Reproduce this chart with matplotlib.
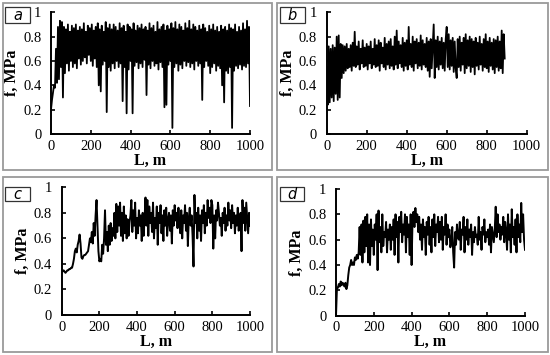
import numpy as np
import matplotlib
matplotlib.use("Agg")
import matplotlib.pyplot as plt
from matplotlib.patches import Rectangle

# ---------------- data (f in hundredths of MPa, sampled every 5 m) ----------------
step_a = 5
f_a = [20, 28, 34, 40, 38, 70, 42, 88, 45, 93,
       55, 92, 30, 88, 50, 86, 58, 90, 52, 84,
       60, 89, 55, 87, 58, 90, 54, 85, 62, 88,
       57, 86, 60, 91, 63, 84, 58, 89, 65, 87,
       60, 90, 56, 85, 62, 88, 55, 91, 40, 86,
       35, 89, 57, 84, 60, 92, 18, 87, 55, 90,
       52, 86, 58, 90, 54, 88, 60, 85, 55, 91,
       58, 87, 27, 89, 55, 84, 17, 90, 53, 88,
       60, 86, 17, 91, 56, 85, 59, 89, 54, 87,
       58, 90, 55, 86, 61, 88, 32, 85, 57, 91,
       54, 87, 60, 89, 56, 84, 58, 92, 53, 86,
       59, 88, 55, 90, 22, 85, 24, 89, 57, 86,
       60, 91, 5, 87, 55, 92, 58, 86, 52, 90,
       57, 88, 54, 85, 60, 91, 56, 87, 59, 93,
       55, 86, 58, 90, 53, 88, 60, 85, 56, 89,
       58, 86, 28, 90, 55, 87, 60, 84, 56, 89,
       50, 86, 55, 90, 58, 85, 52, 88, 56, 84,
       54, 89, 40, 86, 26, 88, 52, 85, 50, 90,
       55, 87, 5, 86, 52, 90, 56, 84, 54, 88,
       57, 85, 53, 91, 56, 86, 55, 93, 58, 88,
       23]

step_b = 5
f_b = [55, 24, 72, 26, 70, 30, 73, 27, 71, 33,
       80, 28, 81, 30, 74, 46, 73, 50, 72, 52,
       74, 54, 70, 55, 73, 52, 75, 56, 84, 55,
       72, 57, 76, 53, 70, 58, 77, 55, 71, 56,
       74, 53, 72, 58, 76, 54, 70, 57, 78, 55,
       73, 56, 77, 52, 75, 58, 71, 55, 79, 53,
       74, 57, 76, 54, 78, 56, 72, 53, 80, 57,
       85, 54, 76, 58, 73, 55, 79, 52, 75, 56,
       77, 53, 88, 57, 74, 55, 80, 52, 76, 58,
       78, 54, 75, 56, 81, 53, 77, 57, 74, 55,
       79, 52, 76, 47, 78, 54, 72, 90, 46, 77,
       55, 80, 53, 76, 57, 79, 54, 75, 52, 78,
       88, 55, 82, 53, 77, 56, 79, 51, 76, 54,
       46, 78, 55, 80, 52, 75, 57, 79, 50, 82,
       54, 77, 56, 80, 51, 78, 55, 76, 49, 79,
       56, 75, 53, 80, 57, 74, 52, 78, 55, 82,
       54, 76, 51, 79, 56, 75, 53, 78, 50, 77,
       55, 80, 52, 76, 54, 85, 50, 82, 62]

step_c = 5
f_c = [35, 34, 35, 34, 33, 34, 35, 35, 36, 36,
       37, 37, 40, 44, 50, 52, 49, 55, 58, 63,
       56, 45, 44, 46, 47, 47, 48, 49, 50, 55,
       60, 57, 65, 56, 72, 62, 78, 90, 70, 50,
       42, 44, 42, 55, 48, 60, 82, 55, 65, 50,
       70, 55, 72, 58, 68, 62, 80, 60, 87, 65,
       85, 70, 88, 62, 80, 58, 85, 64, 78, 60,
       75, 62, 72, 78, 90, 65, 82, 70, 88, 60,
       76, 64, 82, 70, 78, 58, 80, 62, 75, 92,
       70, 90, 62, 85, 72, 80, 65, 88, 60, 76,
       68, 85, 55, 80, 72, 86, 64, 78, 58, 82,
       70, 84, 62, 75, 80, 66, 78, 56, 82, 70,
       86, 74, 80, 68, 84, 72, 64, 82, 60, 78,
       72, 86, 66, 80, 54, 76, 84, 70, 78, 62,
       38, 94, 72, 80, 60, 84, 66, 78, 58, 82,
       72, 86, 64, 80, 70, 90, 76, 84, 72, 90,
       86, 52, 78, 60, 82, 74, 88, 80, 70, 76,
       62, 80, 72, 84, 66, 78, 70, 88, 74, 82,
       68, 86, 72, 80, 64, 78, 70, 84, 66, 76,
       80, 50, 90, 72, 84, 66, 88, 76, 64, 80,
       70]

step_d = 5
f_d = [0, 22, 22, 25, 23, 27, 24, 26, 25, 23,
       26, 21, 24, 32, 38, 40, 44, 40, 42, 40,
       46, 44, 48, 45, 50, 70, 48, 72, 42, 75,
       50, 78, 55, 80, 42, 72, 40, 76, 55, 68,
       48, 72, 60, 80, 36, 83, 58, 70, 50, 80,
       55, 66, 62, 74, 50, 68, 60, 72, 52, 70,
       60, 76, 48, 80, 62, 74, 42, 78, 66, 82,
       58, 72, 64, 80, 50, 78, 62, 72, 48, 80,
       40, 76, 82, 70, 85, 74, 80, 66, 78, 60,
       72, 52, 76, 62, 70, 48, 74, 64, 78, 56,
       70, 50, 76, 62, 80, 55, 72, 66, 78, 58,
       74, 60, 78, 52, 70, 64, 80, 56, 72, 62,
       68, 54, 58, 70, 50, 38, 66, 56, 72, 62,
       60, 74, 52, 68, 64, 78, 50, 70, 60, 76,
       56, 68, 62, 72, 48, 66, 58, 70, 62, 64,
       56, 78, 60, 66, 52, 70, 64, 76, 58, 66,
       62, 68, 56, 72, 50, 70, 64, 58, 68, 86,
       62, 80, 66, 72, 60, 70, 64, 78, 58, 74,
       66, 52, 80, 60, 72, 50, 84, 62, 70, 56,
       76, 50, 80, 62, 72, 58, 89, 66, 80, 60,
       52]

panel_labels = ["a", "b", "c", "d"]
x_ticks = [0, 200, 400, 600, 800, 1000]
y_ticks = [0, 0.2, 0.4, 0.6, 0.8, 1]
y_ticklabels = ["0", "0.2", "0.4", "0.6", "0.8", "1"]
xlabel = "L, m"
ylabel = "f, MPa"

W, H = 550, 355
fig = plt.figure(figsize=(5.5, 3.55), dpi=100)
fig.patch.set_facecolor("white")

def fx(px):
    return px / W

def fy(py):
    return 1 - py / H

boxes = [(3, 3, 272, 170), (277, 3, 548, 170), (3, 177, 272, 352), (277, 177, 548, 352)]
axes_px = [(51, 250, 12.3, 134), (326.7, 526.7, 12.3, 134),
           (61.7, 250, 187.3, 315), (336, 525, 189, 315.7)]
label_boxes = [(5, 7, 30, 23), (280, 7, 305, 23), (5, 187, 30, 201), (280, 187, 304, 201)]
series = [(f_a, step_a), (f_b, step_b), (f_c, step_c), (f_d, step_d)]
line_w = [1.3, 1.3, 1.4, 1.4]

serif = ["Liberation Serif", "DejaVu Serif"]

for k in range(4):
    x0, y0, x1, y1 = boxes[k]
    fig.add_artist(Rectangle((fx(x0), fy(y1)), fx(x1 - x0), (y1 - y0) / H,
                             transform=fig.transFigure, fill=False,
                             edgecolor="#9a9a9a", linewidth=1.3))
    l, r, t, b = axes_px[k]
    ax = fig.add_axes([fx(l), fy(b), fx(r - l), (b - t) / H])
    vals, step = series[k]
    y = np.array(vals) / 100.0
    x = np.arange(len(y)) * step
    ax.plot(x, y, color="black", linewidth=line_w[k])
    ax.set_xlim(0, 1000)
    ax.set_ylim(0, 1)
    for s in ["top", "right"]:
        ax.spines[s].set_visible(False)
    for s in ["left", "bottom"]:
        ax.spines[s].set_linewidth(1.4)
    ax.set_xticks(x_ticks)
    ax.set_xticklabels([str(v) for v in x_ticks], fontfamily=serif, fontsize=10.5)
    ax.set_yticks(y_ticks)
    ax.set_yticklabels(y_ticklabels, fontfamily=serif, fontsize=10.5)
    ax.tick_params(axis="both", direction="in", length=3, width=1.2, pad=4)
    ax.tick_params(axis="y", pad=7)
    ax.set_xlabel(xlabel, fontfamily=serif, fontweight="bold", fontsize=11.5, labelpad=0)
    ax.set_ylabel(ylabel, fontfamily=serif, fontweight="bold", fontsize=11.5, labelpad=2)
    ax.patch.set_alpha(0)

    lx0, ly0, lx1, ly1 = label_boxes[k]
    fig.add_artist(Rectangle((fx(lx0), fy(ly1)), fx(lx1 - lx0), (ly1 - ly0) / H,
                             transform=fig.transFigure, facecolor="white",
                             edgecolor="#333333", linewidth=0.9))
    fig.text(fx((lx0 + lx1) / 2), fy((ly0 + ly1) / 2), panel_labels[k],
             ha="center", va="center", fontsize=10.5, style="italic",
             fontfamily="DejaVu Sans")

fig.savefig("out.png", dpi=100, facecolor="white")
